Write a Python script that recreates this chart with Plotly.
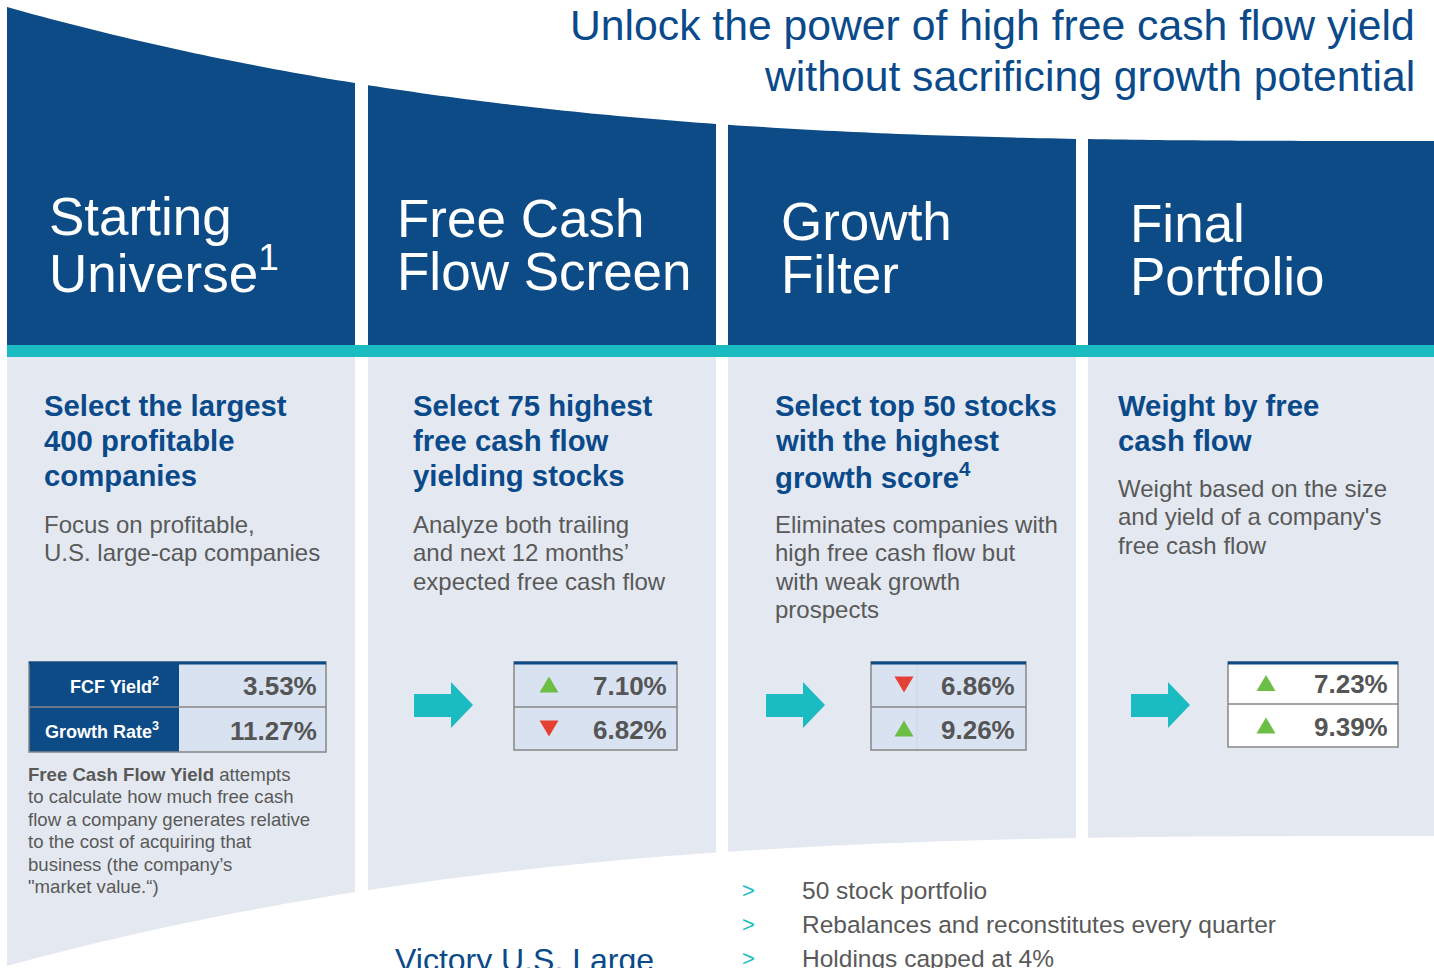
import plotly.graph_objects as go
import numpy as np

W, H = 1434, 968

# ---------------- data ----------------
title_lines = ["Unlock the power of high free cash flow yield",
               "without sacrificing growth potential"]
stage_titles = [["Starting", "Universe<sup>1</sup>"],
                ["Free Cash", "Flow Screen"],
                ["Growth", "Filter"],
                ["Final", "Portfolio"]]
stage_heads = [["Select the largest", "400 profitable", "companies"],
               ["Select 75 highest", "free cash flow", "yielding stocks"],
               ["Select top 50 stocks", "with the highest", "growth score<sup>4</sup>"],
               ["Weight by free", "cash flow"]]
stage_body = [["Focus on profitable,", "U.S. large-cap companies"],
              ["Analyze both trailing", "and next 12 months\u2019", "expected free cash flow"],
              ["Eliminates companies with", "high free cash flow but", "with weak growth", "prospects"],
              ["Weight based on the size", "and yield of a company's", "free cash flow"]]
metric_labels = ["FCF Yield<sup>2</sup>", "Growth Rate<sup>3</sup>"]
fcf_yield = [3.53, 7.10, 6.86, 7.23]
growth_rate = [11.27, 6.82, 9.26, 9.39]
footnote_lines = ["<b>Free Cash Flow Yield</b> attempts",
                  "to calculate how much free cash",
                  "flow a company generates relative",
                  "to the cost of acquiring that",
                  "business (the company\u2019s",
                  "\"market value.\u201c)"]
bullets = ["50 stock portfolio",
           "Rebalances and reconstitutes every quarter",
           "Holdings capped at 4%"]
product_name = "Victory U.S. Large"

# ---------------- style ----------------
NAVY = "rgb(12,75,133)"
TITLE_BLUE = "rgb(11,74,138)"
TEAL = "rgb(26,188,194)"
PANEL = "rgb(228,233,241)"
CELL = "rgb(217,226,241)"
GRAY_TXT = "rgb(89,89,89)"
VAL_TXT = "rgb(85,85,85)"
BORDER = "rgb(135,135,135)"
GREEN = "rgb(108,190,69)"
RED = "rgb(228,65,52)"
FONT = "Liberation Sans, Arial, sans-serif"
PAD = 3  # annotation inner padding compensation

col_x = [(7, 355), (368, 716), (728, 1076), (1088, 1434)]
text_x = [45, 414, 776, 1119]
hdr_x = [50, 398, 782, 1131]
hdr_y = [[216, 269], [218, 271], [221, 274], [223, 276]]
TEAL_Y0, TEAL_Y1 = 345, 357


def ytop(x):
    t = (x - 7) / 1427.0
    return 141 - 134 * (1 - t) ** 3


def ybot(x):
    t = (x - 7) / 1427.0
    return 836 + 130 * (1 - t) ** 3


shapes = []
annotations = []


def path_from(points):
    return "M " + " L ".join(f"{px:.2f},{py:.2f}" for px, py in points) + " Z"


for (a, b) in col_x:
    xs = np.linspace(a, b, 40)
    top_pts = [(x, ytop(x)) for x in xs] + [(b, TEAL_Y0), (a, TEAL_Y0)]
    shapes.append(dict(type="path", path=path_from(top_pts), fillcolor=NAVY,
                       line=dict(width=0), layer="below"))
    bot_pts = [(a, TEAL_Y1), (b, TEAL_Y1)] + [(x, ybot(x)) for x in xs[::-1]]
    shapes.append(dict(type="path", path=path_from(bot_pts), fillcolor=PANEL,
                       line=dict(width=0), layer="below"))

shapes.append(dict(type="rect", x0=7, x1=W, y0=TEAL_Y0, y1=TEAL_Y1,
                   fillcolor=TEAL, line=dict(width=0), layer="below"))


def ann(x, y, text, size, color, xanchor="left", bold=False, yanchor="middle"):
    if bold:
        text = f"<b>{text}</b>"
    if xanchor == "left":
        x = x - PAD
    elif xanchor == "right":
        x = x + PAD
    annotations.append(dict(x=x, y=y, xref="x", yref="y", text=text, showarrow=False,
                            xanchor=xanchor, yanchor=yanchor,
                            font=dict(family=FONT, size=size, color=color)))


# title
ann(1414, 25, title_lines[0], 42.7, TITLE_BLUE, xanchor="right")
ann(1414, 76, title_lines[1], 42.7, TITLE_BLUE, xanchor="right")

# stage headers
for i in range(4):
    for j, line in enumerate(stage_titles[i]):
        ann(hdr_x[i], hdr_y[i][j], line, 53, "white")

# bold headings
for i in range(4):
    for j, line in enumerate(stage_heads[i]):
        ann(text_x[i], 405 + 35 * j, line, 29.3, TITLE_BLUE, bold=True)

# body text
body_y0 = [524, 524, 524, 488]
for i in range(4):
    for j, line in enumerate(stage_body[i]):
        ann(text_x[i], body_y0[i] + 28.5 * j, line, 24, GRAY_TXT)

# footnote
for j, line in enumerate(footnote_lines):
    ann(29, 774 + 22.5 * j, line, 18.6, GRAY_TXT)

# tables
tables = [
    dict(x0=29, x1=326, y0=662, ym=707, y1=752, split=179, bg=CELL),
    dict(x0=514, x1=677, y0=662, ym=707, y1=750, split=None, bg=CELL),
    dict(x0=871, x1=1026, y0=662, ym=707, y1=750, split=917, bg=CELL),
    dict(x0=1228, x1=1398, y0=662, ym=704, y1=747, split=None, bg="white"),
]
tri_x = [None, 549, 904, 1266]
val_right = [316, 666, 1014, 1387]
series = [fcf_yield, growth_rate]

for i, tb in enumerate(tables):
    shapes.append(dict(type="rect", x0=tb["x0"], x1=tb["x1"], y0=tb["y0"], y1=tb["y1"],
                       fillcolor=tb["bg"], line=dict(width=0)))
    if i == 0:
        shapes.append(dict(type="rect", x0=tb["x0"], x1=tb["split"], y0=tb["y0"], y1=tb["y1"],
                           fillcolor=NAVY, line=dict(width=0)))
    elif tb["split"]:
        shapes.append(dict(type="line", x0=tb["split"], x1=tb["split"], y0=tb["y0"], y1=tb["y1"],
                           line=dict(color="rgb(205,214,230)", width=1)))
    shapes.append(dict(type="line", x0=tb["x0"], x1=tb["x1"], y0=tb["ym"], y1=tb["ym"],
                       line=dict(color=BORDER, width=1.5)))
    shapes.append(dict(type="rect", x0=tb["x0"], x1=tb["x1"], y0=tb["y0"], y1=tb["y1"],
                       fillcolor="rgba(0,0,0,0)", line=dict(color=BORDER, width=1.5)))
    shapes.append(dict(type="line", x0=tb["x0"], x1=tb["x1"], y0=tb["y0"] + 1, y1=tb["y0"] + 1,
                       line=dict(color=NAVY, width=3)))
    rows_c = [(tb["y0"] + tb["ym"]) / 2 + 1, (tb["ym"] + tb["y1"]) / 2 + 1]
    for r in range(2):
        v = series[r][i]
        ann(val_right[i], rows_c[r], f"{v:.2f}%", 26, VAL_TXT, xanchor="right", bold=True)
        if i == 0:
            ann(158, rows_c[r], metric_labels[r], 18, "white", xanchor="right", bold=True)
        else:
            up = v > series[r][i - 1]
            cx, cy = tri_x[i], rows_c[r] - 1
            hw, hh = 9.5, 8
            if up:
                pts = [(cx - hw, cy + hh), (cx + hw, cy + hh), (cx, cy - hh)]
                col = GREEN
            else:
                pts = [(cx - hw, cy - hh), (cx + hw, cy - hh), (cx, cy + hh)]
                col = RED
            shapes.append(dict(type="path", path=path_from(pts), fillcolor=col,
                               line=dict(width=0)))

# arrows
arrow_x = [414, 766, 1131]
for ax in arrow_x:
    pts = [(ax, 694), (ax + 37, 694), (ax + 37, 682), (ax + 59, 705),
           (ax + 37, 728), (ax + 37, 717), (ax, 717)]
    shapes.append(dict(type="path", path=path_from(pts), fillcolor=TEAL, line=dict(width=0)))

# bullets
for j, b in enumerate(bullets):
    ann(743, 890 + 34 * j, "&gt;", 22, TEAL)
    ann(803, 890 + 34 * j, b, 24.5, GRAY_TXT)

# product name
ann(396, 960, product_name, 32, TITLE_BLUE)

fig = go.Figure()
fig.update_layout(
    width=W, height=H,
    margin=dict(l=0, r=0, t=0, b=0),
    paper_bgcolor="white", plot_bgcolor="white",
    xaxis=dict(range=[0, W], visible=False, fixedrange=True),
    yaxis=dict(range=[H, 0], visible=False, fixedrange=True),
    shapes=shapes, annotations=annotations, showlegend=False,
)
fig.write_html("out.html", config={"displayModeBar": False},
               post_script="document.body.style.margin='0';")
